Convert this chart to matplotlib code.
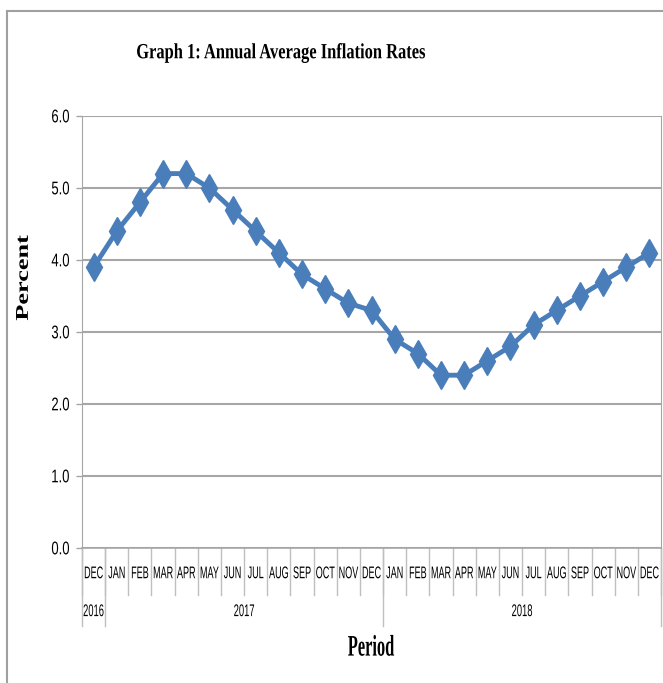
import matplotlib
matplotlib.use('Agg')
import matplotlib.pyplot as plt
from matplotlib.textpath import TextPath
from matplotlib.font_manager import FontProperties
from matplotlib.patheffects import AbstractPathEffect
from matplotlib.lines import Line2D
from matplotlib.transforms import Affine2D, IdentityTransform, blended_transform_factory

# data
months = ['DEC', 'JAN', 'FEB', 'MAR', 'APR', 'MAY', 'JUN', 'JUL', 'AUG', 'SEP', 'OCT', 'NOV', 'DEC',
          'JAN', 'FEB', 'MAR', 'APR', 'MAY', 'JUN', 'JUL', 'AUG', 'SEP', 'OCT', 'NOV', 'DEC']
years = ['2016', '2017', '2018']
year_first = [0, 1, 13]     # index of first month in each year
year_last = [0, 12, 24]
rates = [3.9, 4.4, 4.8, 5.2, 5.2, 5.0, 4.7, 4.4, 4.1, 3.8, 3.6, 3.4, 3.3,
         2.9, 2.7, 2.4, 2.4, 2.6, 2.8, 3.1, 3.3, 3.5, 3.7, 3.9, 4.1]
yticks = [0.0, 1.0, 2.0, 3.0, 4.0, 5.0, 6.0]

W, H = 663, 683
BLUE = '#4A7EBB'
GRID = '#A6A6A6'
LIGHT = '#BFBFBF'

serif_bold = FontProperties(family='Liberation Serif', weight='bold')
sans = FontProperties(family='Liberation Sans')


class Tall(AbstractPathEffect):
    """Stretch glyphs across the baseline so the text looks condensed."""
    def __init__(self, sy):
        super().__init__()
        self.sy = sy

    def draw_path(self, renderer, gc, tpath, affine, rgbFace=None):
        ext = tpath.get_extents()
        cy = (ext.y0 + ext.y1) / 2
        st = Affine2D().translate(0, -cy).scale(1, self.sy).translate(0, cy)
        renderer.draw_path(gc, tpath, st + affine, rgbFace)


def fit(s, prop, width, height):
    # font size (pt) giving the width, and stretch giving the height, in pixels
    ext = TextPath((0, 0), s, size=100, prop=prop).get_extents()
    px = width * 100 / ext.width
    return px * 0.72, [Tall(height / (ext.height * px / 100))]


fig = plt.figure(figsize=(W / 100, H / 100), dpi=100)
ax = fig.add_axes([82 / W, (H - 548) / H, (661 - 82) / W, (548 - 116) / H])

x = list(range(len(months)))
ax.plot(x, rates, color=BLUE, lw=3.5, marker='d', markersize=14, zorder=3)

ax.set_xlim(-0.5, len(months) - 0.5)
ax.set_ylim(0, 6)
ax.set_yticks(yticks)
fs, pe = fit('6.0', sans, 17, 13)
ax.set_yticklabels(['%.1f' % v for v in yticks], fontsize=fs, family='Liberation Sans')
for lbl in ax.get_yticklabels():
    lbl.set_path_effects(pe)
ax.tick_params(axis='y', length=4, width=1, color=GRID, pad=5)
ax.set_xticks([])
ax.yaxis.grid(True, color=GRID, lw=1.5)
ax.set_axisbelow(True)
ax.spines['top'].set_visible(False)
for side in ['left', 'right', 'bottom']:
    ax.spines[side].set_color(GRID)
ax.spines['bottom'].set_linewidth(1.2)

# two-level category table under the axis
trans = blended_transform_factory(ax.transData, ax.transAxes)
row1 = -47 / 432
row2 = -78 / 432
for k in range(len(months) + 1):
    b = k - 0.5
    ax.add_line(Line2D([b, b], [0, row1], transform=trans, color=LIGHT, lw=1, clip_on=False))
for b in [year_first[0] - 0.5] + [l + 0.5 for l in year_last]:
    ax.add_line(Line2D([b, b], [0, row2], transform=trans, color=LIGHT, lw=1, clip_on=False))
fs, pe = fit('DEC', sans, 18, 12)
for i, m in enumerate(months):
    ax.text(i, -25 / 432, m, transform=trans, ha='center', va='center', fontsize=fs,
            family='Liberation Sans', path_effects=pe)
fs, pe = fit('2016', sans, 20, 12)
for yr, a, b in zip(years, year_first, year_last):
    ax.text((a + b) / 2, -63 / 432, yr, transform=trans, ha='center', va='center',
            fontsize=fs, family='Liberation Sans', path_effects=pe)

# outer chart frame (cropped at right and bottom)
fig.add_artist(Line2D([7, W], [H - 11, H - 11], transform=IdentityTransform(), color='#A0A0A0', lw=1.5))
fig.add_artist(Line2D([7, 7], [0, H - 11], transform=IdentityTransform(), color='#A0A0A0', lw=1.5))

title = 'Graph 1: Annual Average Inflation Rates'
fs, pe = fit(title, serif_bold, 288, 20)
fig.text(281 / W, 1 - 53 / H, title, ha='center', va='center', fontsize=fs,
         family='Liberation Serif', weight='bold', path_effects=pe)

fs, pe = fit('Period', serif_bold, 46, 21)
fig.text(371 / W, 1 - 647 / H, 'Period', ha='center', va='center', fontsize=fs,
         family='Liberation Serif', weight='bold', path_effects=pe)

fs, pe = fit('Percent', serif_bold, 85, 12)
fig.text(24 / W, 1 - 278 / H, 'Percent', ha='center', va='center', rotation=90, fontsize=fs,
         family='Liberation Serif', weight='bold', path_effects=pe)

fig.savefig('out.png', dpi=100)
